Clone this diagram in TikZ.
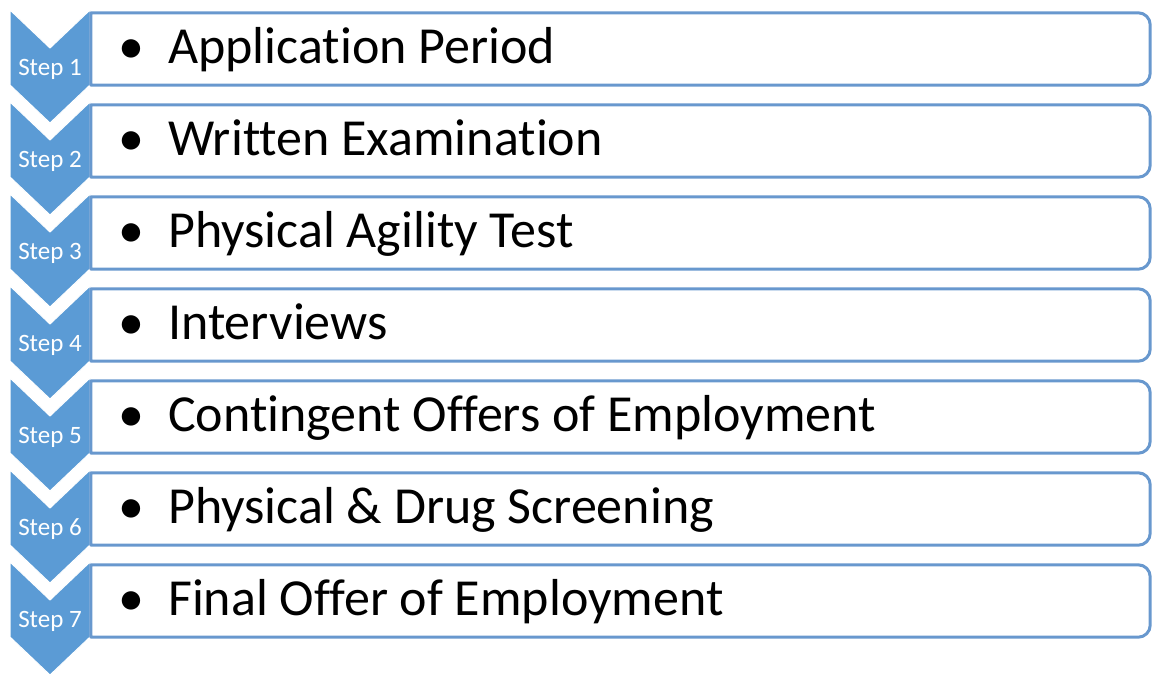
\documentclass[tikz,border=0pt]{standalone}
\usepackage{fontspec}
\setmainfont{Carlito}[Ligatures=NoCommon]
\usetikzlibrary{calc}
\definecolor{chevblue}{RGB}{91,155,213}
\definecolor{boxblue}{RGB}{104,152,206}

\begin{document}
\begin{tikzpicture}[x=1pt,y=-1pt,
		chevron/.style={fill=chevblue,draw=white,line width=1pt},
		steplabel/.style={anchor=base,text=white,inner sep=0pt,font=\fontsize{25}{25}\selectfont},
		itembox/.style={minimum width=1059pt,minimum height=72pt,inner sep=0pt},
		itemdot/.style={anchor=base,inner sep=0pt,font=\fontsize{52}{52}\selectfont},
		itemtext/.style={anchor=base west,inner sep=0pt,font=\fontsize{52}{52}\selectfont}]
		\def\r{12}
		\useasboundingbox (0,0) rectangle (1174,686);
		\foreach \i/\t in {1/Application Period,2/Written Examination,3/Physical Agility Test,4/Interviews,5/Contingent Offers of Employment,6/Physical \& Drug Screening,7/Final Offer of Employment}{
			\pgfmathsetmacro\y{10+92*(\i-1)}
			\path[chevron] (10,\y) -- (50,\y+38) -- (90,\y) -- (90,\y+75) -- (50,\y+113) -- (10,\y+75) -- cycle;
			\node[steplabel] (s\i) at (50,\y+65) {Step \i};
			\node[itembox] (b\i) at (620.5,\y+39) {};
			\draw[boxblue,line width=3pt,line join=round] (b\i.south west) -- (b\i.north west) -- ($(b\i.north east)-(\r,0)$) arc[start angle=-90,end angle=0,radius=\r] -- ($(b\i.south east)-(0,\r)$) arc[start angle=0,end angle=90,radius=\r] -- cycle;
			\node[itemdot] (d\i) at (131,\y+53) {•};
			\node[itemtext] (t\i) at (168,\y+53) {\t};
		}
	\end{tikzpicture}
\end{document}
